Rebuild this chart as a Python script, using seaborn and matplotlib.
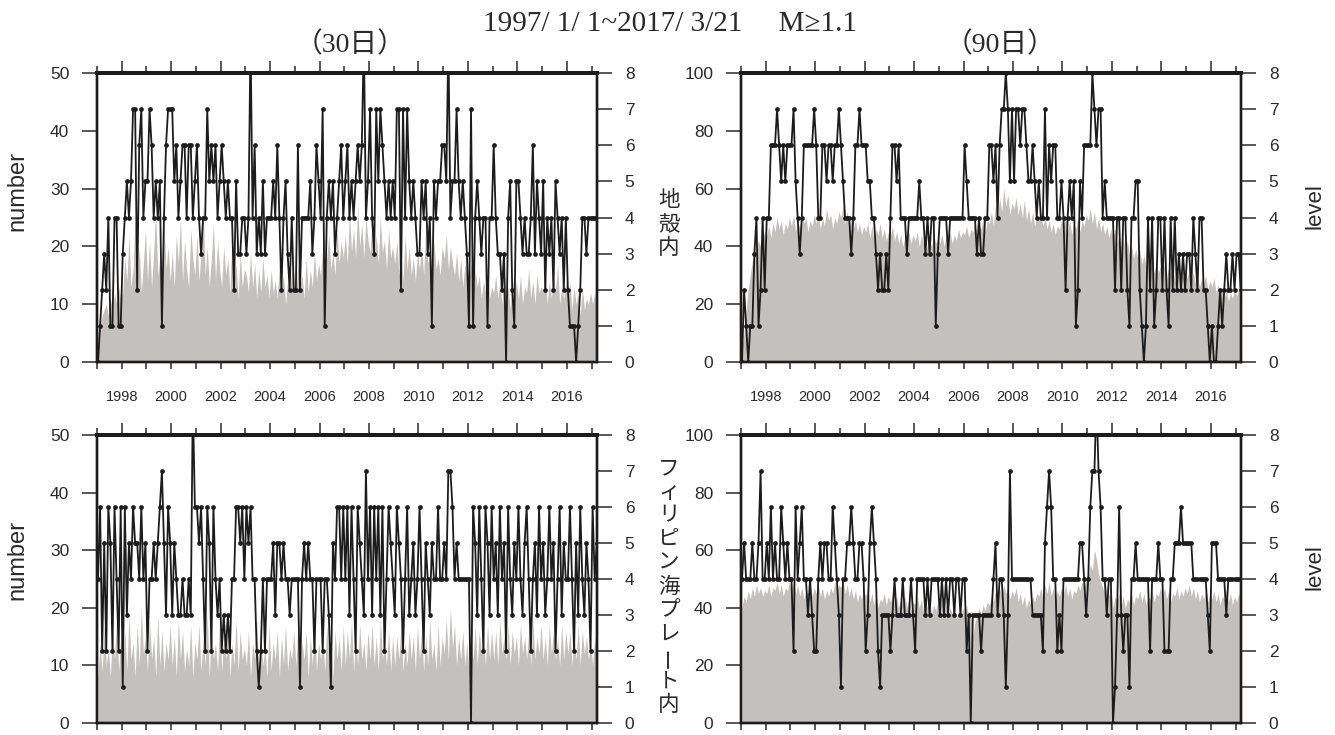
import numpy as np
import pandas as pd
import matplotlib
matplotlib.use("Agg")
import matplotlib.pyplot as plt
import seaborn as sns
from matplotlib.ticker import FixedLocator, NullFormatter

sns.set_theme(style="ticks")
plt.rcParams["font.family"] = ["Liberation Sans", "Noto Sans CJK JP", "DejaVu Sans"]

# ---------------- data ----------------
FIRST_YEAR = 1997
LAST_T = 2017 + 80 / 365          # 2017/3/21
YEAR_LABELS = list(range(1998, 2017, 2))
ODD_YEARS = list(range(1997, 2018, 2))
LEFT_TICKS_30 = [0, 10, 20, 30, 40, 50]
LEFT_TICKS_90 = [0, 20, 40, 60, 80, 100]
LEVEL_TICKS = list(range(9))

TITLE_MAIN = "1997/ 1/ 1~2017/ 3/21     M≥1.1"
TITLE_30 = "（30日）"
TITLE_90 = "（90日）"
REGION_LABELS = ["地殻内", "フィリピン海プレート内"]

# monthly level (one row per year 1997..2016, then 2017 Jan-Mar)
LEV_CRUST_30 = [
    0, 1, 2, 3, 2, 4, 1, 1, 4, 4, 1, 1,
    3, 4, 5, 4, 5, 7, 7, 2, 6, 7, 4, 5,
    5, 7, 6, 4, 5, 4, 5, 1, 4, 6, 7, 7,
    7, 5, 6, 4, 5, 6, 6, 4, 6, 6, 4, 5,
    6, 4, 3, 4, 4, 7, 5, 6, 5, 6, 4, 5,
    6, 5, 4, 5, 4, 4, 2, 5, 3, 3, 4, 4,
    3, 4, 9, 4, 6, 3, 4, 3, 5, 3, 4, 4,
    4, 5, 4, 6, 4, 2, 4, 5, 3, 2, 4, 2,
    2, 6, 2, 4, 4, 4, 4, 5, 3, 4, 6, 5,
    4, 7, 1, 4, 5, 4, 5, 3, 4, 5, 6, 4,
    5, 6, 4, 5, 4, 5, 6, 5, 6, 9, 4, 5,
    7, 4, 3, 7, 5, 7, 6, 5, 4, 5, 4, 5,
    4, 7, 7, 2, 7, 4, 7, 5, 4, 5, 4, 3,
    3, 5, 4, 5, 3, 4, 1, 5, 4, 5, 5, 6,
    6, 5, 9, 4, 5, 5, 7, 5, 4, 5, 4, 3,
    1, 7, 1, 4, 5, 4, 3, 4, 4, 1, 4, 4,
    6, 4, 3, 3, 2, 3, 0, 4, 5, 2, 1, 5,
    5, 4, 3, 4, 3, 3, 4, 6, 3, 5, 4, 3,
    5, 2, 4, 3, 4, 2, 5, 4, 3, 4, 2, 4,
    2, 1, 1, 1, 0, 1, 2, 4, 4, 3, 4, 4,
    4, 4, 4,
]

LEV_CRUST_90 = [
    0, 2, 1, 0, 1, 1, 3, 4, 1, 2, 4, 2,
    4, 4, 6, 6, 6, 7, 6, 5, 6, 5, 6, 6,
    6, 7, 5, 4, 3, 4, 6, 6, 6, 6, 6, 7,
    6, 4, 4, 6, 6, 5, 6, 6, 5, 6, 6, 7,
    6, 5, 4, 4, 4, 3, 4, 6, 6, 7, 6, 6,
    6, 5, 5, 4, 4, 3, 2, 3, 2, 2, 3, 2,
    4, 6, 6, 5, 6, 4, 4, 4, 3, 4, 4, 4,
    4, 4, 5, 4, 4, 3, 4, 3, 4, 4, 1, 3,
    4, 4, 4, 4, 3, 4, 4, 4, 4, 4, 4, 4,
    6, 5, 4, 4, 4, 4, 3, 4, 3, 3, 4, 4,
    6, 6, 5, 6, 4, 6, 7, 7, 8, 7, 5, 7,
    5, 7, 7, 6, 7, 7, 6, 5, 5, 6, 5, 4,
    5, 4, 4, 7, 4, 6, 5, 6, 6, 4, 4, 5,
    4, 2, 4, 5, 4, 5, 1, 2, 5, 4, 6, 6,
    6, 6, 8, 7, 6, 7, 7, 4, 5, 4, 4, 4,
    4, 2, 4, 4, 2, 4, 4, 2, 1, 4, 4, 5,
    5, 2, 1, 0, 1, 4, 2, 4, 1, 2, 4, 4,
    2, 4, 2, 1, 4, 2, 4, 2, 3, 2, 3, 2,
    3, 3, 2, 4, 3, 2, 4, 4, 2, 2, 1, 0,
    1, 0, 0, 1, 2, 1, 2, 3, 2, 2, 3, 2,
    3, 3, 2,
]

LEV_PHIL_30 = [
    4, 6, 2, 5, 2, 6, 5, 2, 6, 4, 2, 6,
    1, 6, 3, 5, 4, 6, 5, 5, 4, 6, 4, 5,
    2, 4, 4, 5, 4, 5, 6, 7, 5, 3, 6, 5,
    3, 5, 4, 3, 3, 4, 3, 3, 4, 3, 9, 6,
    6, 5, 6, 4, 2, 6, 5, 2, 6, 4, 3, 4,
    2, 3, 2, 3, 2, 4, 4, 6, 6, 5, 6, 4,
    6, 5, 6, 4, 4, 2, 1, 2, 4, 2, 4, 4,
    4, 5, 3, 5, 5, 4, 5, 4, 4, 3, 4, 4,
    4, 4, 1, 4, 5, 4, 5, 4, 4, 2, 4, 4,
    4, 2, 4, 4, 3, 1, 5, 4, 6, 6, 4, 6,
    4, 6, 3, 6, 4, 2, 6, 5, 4, 3, 7, 4,
    6, 3, 6, 4, 6, 3, 6, 2, 4, 6, 5, 4,
    3, 6, 5, 4, 2, 4, 6, 3, 4, 5, 3, 4,
    6, 4, 2, 5, 4, 3, 5, 4, 4, 6, 4, 4,
    5, 4, 7, 7, 6, 4, 5, 4, 4, 4, 4, 4,
    4, 0, 6, 5, 3, 6, 4, 2, 6, 5, 3, 6,
    4, 5, 3, 6, 4, 5, 2, 6, 4, 3, 5, 4,
    6, 4, 3, 5, 6, 4, 2, 4, 5, 3, 6, 4,
    5, 3, 4, 6, 4, 5, 2, 4, 6, 3, 5, 4,
    4, 6, 4, 2, 5, 3, 6, 4, 3, 5, 4, 2,
    6, 4, 5,
]

LEV_PHIL_90 = [
    4, 5, 4, 4, 4, 5, 4, 4, 5, 7, 4, 4,
    5, 4, 6, 4, 5, 4, 4, 6, 5, 4, 5, 4,
    4, 2, 6, 4, 5, 6, 4, 4, 3, 4, 3, 2,
    2, 4, 5, 4, 5, 5, 4, 4, 6, 5, 4, 3,
    1, 4, 4, 5, 5, 6, 5, 4, 4, 5, 5, 4,
    2, 3, 5, 6, 5, 4, 2, 1, 3, 3, 3, 3,
    2, 3, 4, 3, 3, 3, 4, 3, 3, 3, 4, 3,
    2, 4, 4, 4, 4, 3, 4, 3, 4, 4, 4, 4,
    3, 4, 3, 4, 3, 4, 4, 3, 4, 4, 3, 4,
    4, 2, 3, 0, 3, 3, 3, 3, 2, 3, 3, 3,
    3, 3, 4, 5, 3, 4, 4, 3, 1, 3, 7, 4,
    4, 4, 4, 4, 4, 4, 4, 4, 4, 3, 3, 3,
    3, 3, 2, 5, 6, 7, 6, 4, 4, 2, 3, 2,
    4, 4, 4, 4, 4, 4, 4, 4, 5, 5, 4, 3,
    4, 6, 7, 7, 9, 7, 6, 4, 4, 3, 4, 4,
    0, 1, 3, 6, 3, 2, 3, 3, 1, 4, 4, 5,
    4, 4, 4, 4, 4, 4, 2, 4, 4, 4, 5, 4,
    4, 2, 2, 2, 4, 4, 5, 5, 5, 6, 5, 5,
    5, 5, 5, 4, 4, 4, 4, 4, 4, 4, 3, 2,
    5, 5, 5, 4, 4, 4, 4, 3, 4, 4, 4, 4,
    4, 4, 4,
]

# monthly number of events in the window (gray)
NUM_CRUST_30 = [
    4, 6, 8, 9, 10, 8, 11, 9, 12, 10, 13, 11,
    12, 18, 14, 22, 13, 16, 25, 14, 20, 12, 17, 23,
    14, 21, 13, 19, 26, 15, 18, 12, 24, 16, 20, 14,
    19, 13, 22, 17, 25, 14, 21, 16, 13, 23, 18, 15,
    22, 14, 19, 27, 15, 20, 13, 18, 24, 14, 21, 16,
    13, 20, 15, 18, 12, 22, 14, 17, 11, 19, 13, 16,
    15, 12, 19, 13, 17, 11, 16, 12, 18, 13, 15, 11,
    16, 12, 14, 11, 17, 13, 15, 10, 14, 12, 16, 13,
    12, 17, 13, 15, 11, 18, 12, 16, 13, 19, 14, 17,
    15, 20, 14, 18, 22, 16, 19, 15, 23, 17, 21, 18,
    22, 17, 26, 19, 23, 18, 27, 20, 24, 18, 25, 21,
    19, 24, 18, 22, 17, 25, 19, 21, 16, 23, 18, 20,
    17, 21, 15, 19, 14, 22, 16, 20, 15, 18, 14, 19,
    16, 20, 15, 23, 17, 19, 14, 21, 16, 18, 15, 20,
    18, 22, 16, 20, 17, 15, 19, 14, 18, 13, 17, 15,
    14, 17, 12, 16, 13, 15, 11, 14, 12, 16, 11, 13,
    12, 15, 11, 14, 10, 16, 12, 13, 9, 15, 11, 14,
    11, 15, 10, 13, 12, 16, 11, 14, 10, 15, 12, 13,
    12, 16, 10, 14, 11, 15, 12, 17, 10, 13, 11, 14,
    11, 14, 9, 13, 10, 12, 8, 13, 9, 11, 10, 12,
    10, 12, 9,
]

NUM_CRUST_90 = [
    5, 10, 18, 25, 30, 35, 38, 40, 42, 40, 43, 45,
    44, 47, 43, 48, 45, 50, 46, 49, 44, 48, 46, 50,
    47, 51, 45, 49, 46, 52, 48, 50, 45, 49, 47, 51,
    48, 52, 46, 50, 47, 53, 49, 51, 46, 50, 48, 52,
    50, 54, 48, 52, 47, 50, 46, 49, 45, 48, 44, 47,
    45, 48, 43, 47, 42, 46, 44, 48, 43, 46, 42, 45,
    44, 47, 42, 45, 41, 44, 40, 43, 42, 45, 41, 44,
    42, 45, 40, 44, 41, 43, 39, 42, 40, 44, 41, 43,
    41, 44, 40, 43, 42, 45, 41, 44, 42, 46, 43, 45,
    44, 47, 43, 46, 45, 48, 44, 47, 46, 50, 45, 49,
    48, 52, 47, 55, 50, 57, 52, 60, 54, 58, 51, 55,
    53, 57, 51, 55, 50, 56, 49, 53, 48, 52, 47, 51,
    49, 52, 47, 50, 46, 49, 45, 48, 44, 47, 46, 49,
    47, 50, 45, 49, 44, 48, 46, 50, 45, 49, 47, 51,
    49, 53, 48, 52, 46, 50, 45, 48, 44, 47, 43, 46,
    43, 46, 41, 44, 40, 43, 38, 42, 37, 40, 36, 39,
    36, 39, 34, 37, 33, 36, 32, 35, 31, 34, 31, 33,
    31, 34, 29, 33, 30, 32, 28, 31, 29, 32, 29, 31,
    29, 32, 28, 31, 27, 30, 26, 29, 27, 30, 25, 28,
    26, 29, 24, 27, 23, 26, 22, 25, 21, 24, 22, 25,
    23, 25, 22,
]

NUM_PHIL_30 = [
    8, 14, 9, 17, 10, 13, 8, 16, 11, 18, 9, 15,
    10, 16, 9, 19, 11, 14, 8, 17, 10, 20, 12, 15,
    9, 18, 11, 15, 8, 19, 10, 16, 9, 14, 11, 17,
    10, 15, 8, 18, 11, 16, 9, 13, 10, 17, 8, 14,
    11, 17, 9, 15, 10, 19, 8, 16, 11, 14, 9, 18,
    9, 15, 11, 17, 8, 14, 10, 18, 9, 16, 11, 13,
    10, 16, 8, 14, 11, 18, 9, 15, 10, 13, 8, 17,
    9, 14, 11, 16, 8, 15, 10, 17, 9, 13, 11, 16,
    10, 17, 9, 14, 11, 16, 8, 15, 10, 18, 9, 14,
    11, 15, 9, 17, 10, 14, 8, 16, 11, 15, 9, 17,
    10, 16, 11, 18, 9, 15, 10, 17, 11, 14, 9, 16,
    11, 17, 10, 15, 9, 18, 11, 14, 10, 16, 9, 15,
    10, 15, 11, 17, 9, 14, 10, 16, 11, 15, 9, 17,
    11, 16, 9, 15, 10, 18, 11, 14, 9, 17, 10, 15,
    12, 18, 11, 20, 13, 17, 10, 15, 11, 16, 10, 14,
    9, 15, 11, 17, 10, 16, 12, 15, 10, 17, 11, 16,
    11, 16, 10, 18, 12, 15, 11, 17, 10, 16, 12, 15,
    10, 17, 12, 15, 11, 16, 10, 18, 11, 15, 12, 17,
    11, 15, 10, 17, 12, 16, 11, 15, 10, 17, 11, 16,
    12, 16, 10, 15, 11, 17, 10, 16, 12, 15, 11, 14,
    10, 15, 11,
]

NUM_PHIL_90 = [
    40, 44, 42, 46, 43, 47, 44, 48, 45, 47, 44, 46,
    45, 48, 44, 47, 46, 49, 45, 48, 44, 47, 46, 49,
    46, 49, 45, 48, 44, 47, 43, 46, 45, 48, 44, 47,
    45, 48, 44, 47, 43, 46, 44, 47, 45, 49, 46, 48,
    47, 50, 45, 48, 44, 47, 43, 46, 42, 45, 43, 46,
    44, 47, 42, 45, 41, 44, 40, 43, 42, 45, 41, 44,
    42, 45, 41, 44, 40, 43, 41, 44, 40, 43, 39, 42,
    41, 44, 40, 43, 39, 42, 40, 43, 38, 41, 39, 42,
    40, 43, 38, 41, 37, 40, 38, 41, 36, 39, 37, 40,
    38, 41, 36, 39, 30, 35, 37, 40, 38, 41, 39, 42,
    41, 44, 42, 46, 43, 47, 44, 48, 45, 47, 43, 46,
    44, 47, 42, 45, 41, 44, 40, 43, 41, 44, 42, 45,
    44, 47, 43, 48, 45, 49, 44, 47, 43, 46, 44, 47,
    45, 48, 44, 47, 43, 46, 45, 48, 46, 49, 47, 50,
    50, 55, 53, 60, 57, 52, 49, 47, 45, 48, 44, 47,
    40, 44, 42, 45, 41, 44, 40, 43, 42, 45, 41, 44,
    43, 46, 42, 45, 41, 44, 43, 46, 42, 45, 44, 47,
    44, 47, 43, 46, 42, 45, 44, 47, 43, 46, 44, 47,
    45, 48, 44, 47, 43, 46, 42, 45, 43, 46, 42, 45,
    43, 46, 42, 45, 41, 44, 43, 46, 42, 45, 41, 44,
    42, 45, 43,
]

# ---------------- style ----------------
GRAY = "#c4c0be"
LINE = "#1c1c1c"
INK = "#2a2a2a"
YTICK_FONT = 12.5
XTICK_FONT = 10.5

W, H = 1335, 735


def rect(l, t, r, b):
    return [l / W, 1 - b / H, (r - l) / W, (b - t) / H]


panels = [
    dict(num=NUM_CRUST_30, lev=LEV_CRUST_30, ymax=50, yt=LEFT_TICKS_30,
         rect=rect(97, 73, 597, 362), left_label=0.59, right_label=None, xlabels=True),
    dict(num=NUM_CRUST_90, lev=LEV_CRUST_90, ymax=100, yt=LEFT_TICKS_90,
         rect=rect(741, 73, 1241, 362), left_label=None, right_label=0.54, xlabels=True),
    dict(num=NUM_PHIL_30, lev=LEV_PHIL_30, ymax=50, yt=LEFT_TICKS_30,
         rect=rect(97, 435, 597, 723), left_label=0.566, right_label=None, xlabels=False),
    dict(num=NUM_PHIL_90, lev=LEV_PHIL_90, ymax=100, yt=LEFT_TICKS_90,
         rect=rect(741, 435, 1241, 723), left_label=None, right_label=0.54, xlabels=False),
]

fig = plt.figure(figsize=(W / 100, H / 100), dpi=100)

for p in panels:
    n = len(p["num"])
    t = FIRST_YEAR + (np.arange(n) + 0.5) / 12
    df = pd.DataFrame({"t": t, "number": p["num"], "level": p["lev"]})

    ax = fig.add_axes(p["rect"])
    ax.set_facecolor("white")
    sns.histplot(data=df, x="t", weights="number", binwidth=1 / 12,
                 binrange=(FIRST_YEAR, FIRST_YEAR + n / 12), element="poly",
                 fill=True, color=GRAY, alpha=1, linewidth=0, ax=ax)
    ax.set_xlim(FIRST_YEAR, LAST_T)
    ax.set_ylim(0, p["ymax"])
    ax.set_yticks(p["yt"])
    ax.xaxis.set_major_locator(FixedLocator(YEAR_LABELS))
    ax.xaxis.set_minor_locator(FixedLocator(ODD_YEARS))
    ax.tick_params(axis="y", which="major", direction="out", length=11, width=1.1,
                   pad=9, labelsize=YTICK_FONT, colors=INK, left=True, right=False)
    ax.tick_params(axis="x", which="both", direction="out", length=5, width=1.1,
                   pad=15, labelsize=XTICK_FONT, colors=INK, bottom=True, top=False)
    if not p["xlabels"]:
        ax.xaxis.set_major_formatter(NullFormatter())
    ax.set_xlabel("")
    if p["left_label"] is not None:
        ax.set_ylabel("number", fontsize=17, color=INK)
        ax.yaxis.set_label_coords(-0.138, p["left_label"])
    else:
        ax.set_ylabel("")

    sec = ax.secondary_xaxis("top")
    sec.xaxis.set_major_locator(FixedLocator(YEAR_LABELS))
    sec.xaxis.set_minor_locator(FixedLocator(ODD_YEARS))
    sec.xaxis.set_major_formatter(NullFormatter())
    sec.tick_params(which="major", direction="out", length=9, width=1.1, colors=INK)
    sec.tick_params(which="minor", direction="out", length=5, width=1.1, colors=INK)
    sec.spines["top"].set_linewidth(2.8)
    sec.spines["top"].set_color(LINE)

    ax2 = ax.twinx()
    sns.lineplot(data=df, x="t", y="level", ax=ax2, color=LINE, linewidth=1.3,
                 marker="o", markersize=3.4, markeredgewidth=0, estimator=None,
                 legend=False)
    ax2.set_xlim(FIRST_YEAR, LAST_T)
    ax2.set_ylim(0, 8)
    ax2.set_yticks(LEVEL_TICKS)
    ax2.tick_params(axis="y", direction="out", length=11, width=1.1, pad=9,
                    labelsize=YTICK_FONT, colors=INK)
    if p["right_label"] is not None:
        ax2.set_ylabel("level", fontsize=16, color=INK, rotation=90)
        ax2.yaxis.set_label_coords(1.126, p["right_label"])
    else:
        ax2.set_ylabel("")

    for a in (ax, ax2):
        for s in a.spines.values():
            s.set_color(LINE)
            s.set_linewidth(1.7)
        a.spines["top"].set_linewidth(2.8)

serif = ["Liberation Serif", "Noto Sans CJK JP", "DejaVu Sans"]
fig.text(350 / W, 1 - 45 / H, TITLE_30, family=serif, fontsize=20, ha="center", va="center", color=INK)
fig.text(670 / W, 1 - 24 / H, TITLE_MAIN, family=serif, fontsize=21, ha="center", va="center", color=INK)
fig.text(1000 / W, 1 - 45 / H, TITLE_90, family=serif, fontsize=20, ha="center", va="center", color=INK)

# vertical (tategaki) region labels between the columns
cjk = ["Noto Sans CJK JP", "DejaVu Sans"]
for label, y0, step in zip(REGION_LABELS, (200, 468), (24.0, 23.7)):
    for i, ch in enumerate(label):
        fig.text(669 / W, 1 - (y0 + i * step) / H, ch, family=cjk, fontsize=15.5,
                 ha="center", va="center", color=INK,
                 rotation=90 if ch == "ー" else 0)

fig.savefig("out.png", dpi=100, facecolor="white")
